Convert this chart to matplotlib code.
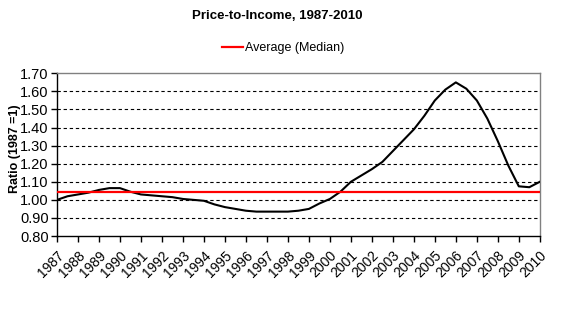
import matplotlib
matplotlib.use("Agg")
import matplotlib.pyplot as plt
import numpy as np

plt.rcParams['font.family'] = ['Liberation Sans', 'DejaVu Sans']

# half-year readings of the price-to-income ratio (1987 = 1)
years = np.arange(1987.0, 2010.01, 0.5)
ratio = [1.00, 1.02, 1.03, 1.04, 1.055, 1.065, 1.065, 1.045, 1.03, 1.025,
         1.02, 1.015, 1.005, 1.00, 0.995, 0.975, 0.96, 0.95, 0.94, 0.935,
         0.935, 0.935, 0.935, 0.94, 0.95, 0.98, 1.005, 1.045, 1.10, 1.135,
         1.17, 1.21, 1.27, 1.33, 1.39, 1.465, 1.55, 1.61, 1.65, 1.615,
         1.55, 1.45, 1.325, 1.19, 1.075, 1.07, 1.10]
median = 1.045
tick_years = list(range(1987, 2011))
y_ticks = [0.80, 0.90, 1.00, 1.10, 1.20, 1.30, 1.40, 1.50, 1.60, 1.70]

fig = plt.figure(figsize=(5.66, 3.26), dpi=100)
ax = fig.add_axes([0.1007, 0.276, 0.853, 0.499])

for yt in y_ticks[1:-1]:
    ax.axhline(yt, color='black', lw=0.8, ls=(0, (3, 2.5)), zorder=1)

ax.plot(years, ratio, color='black', lw=1.5, zorder=3)
red = ax.axhline(median, color='#ff0000', lw=1.6, zorder=4, label='Average (Median)')

ax.set_xlim(1987, 2010)
ax.set_ylim(0.80, 1.70)
ax.set_yticks(y_ticks)
ax.set_yticklabels(['%.2f' % v for v in y_ticks], fontsize=10.5)
ax.set_xticks(tick_years)
ax.set_xticklabels([str(y) for y in tick_years], fontsize=10, rotation=45,
                   ha='right', rotation_mode='anchor')
ax.tick_params(axis='both', direction='out', length=4, width=1, color='black', pad=2)
ax.tick_params(axis='x', pad=5)

for s in ['left', 'bottom']:
    ax.spines[s].set_color('black')
    ax.spines[s].set_linewidth(1)
for s in ['top', 'right']:
    ax.spines[s].set_color('#808080')
    ax.spines[s].set_linewidth(1)

fig.text(0.026, 0.543, 'Ratio (1987 =1)', rotation=90, fontsize=9, fontweight='bold',
         ha='center', va='center')
fig.text(0.49, 0.95, 'Price-to-Income, 1987-2010', fontsize=9.5, fontweight='bold',
         ha='center', va='center')
fig.legend(handles=[red], loc='center', bbox_to_anchor=(0.5, 0.853), frameon=False,
           fontsize=9, handlelength=1.7, handletextpad=0.2)

fig.savefig('out.png', dpi=100)
